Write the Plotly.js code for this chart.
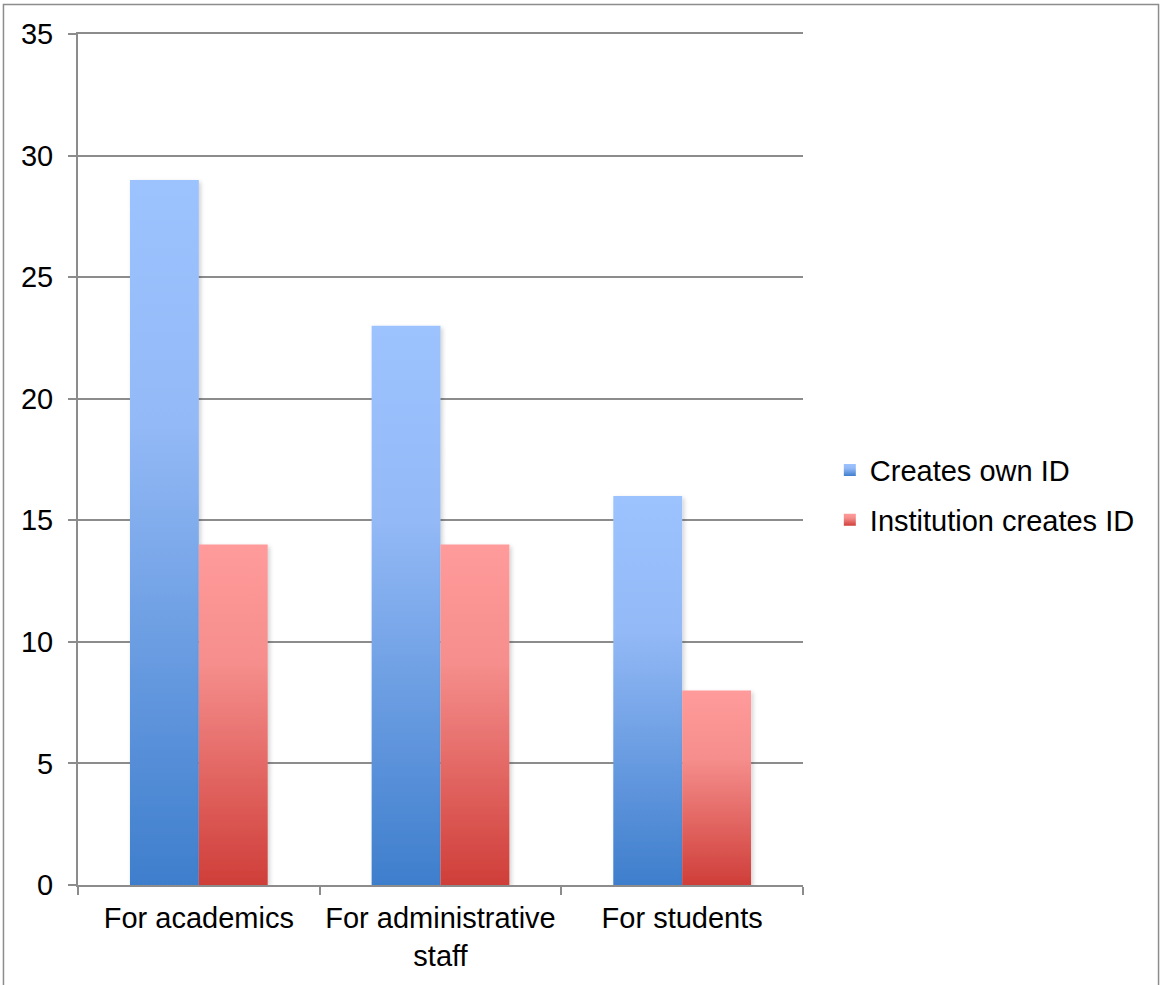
<!DOCTYPE html>
<html>
<head>
<meta charset="utf-8">
<script src="https://cdn.plot.ly/plotly-3.0.1.min.js"></script>
<style>
  html, body { margin: 0; padding: 0; background: #fff; }
  #chart { width: 1161px; height: 985px; }
</style>
</head>
<body>
<div id="chart"></div>
<script>
const categories = ["For academics", "For administrative<br>staff", "For students"];
const seriesNames = ["Creates own ID", "Institution creates ID"];
const createsOwnID = [29, 23, 16];
const institutionCreatesID = [14, 14, 8];
const yTicks = [0, 5, 10, 15, 20, 25, 30, 35];

const font = "Liberation Sans, Arial, sans-serif";
const grey = "#8c8c8c";
const fsize = 29;

const traces = [
  { type: "bar", name: seriesNames[0], x: categories, y: createsOwnID,
    marker: { color: "#6f9ce6", line: { width: 0 } }, legendgroup: "a", hoverinfo: "none" },
  { type: "bar", name: seriesNames[1], x: categories, y: institutionCreatesID,
    marker: { color: "#ea6e6b", line: { width: 0 } }, legendgroup: "b", hoverinfo: "none" }
];

const layout = {
  width: 1161, height: 985,
  margin: { l: 78, r: 358, t: 34, b: 100, pad: 0 },
  paper_bgcolor: "#fff", plot_bgcolor: "#fff",
  barmode: "group", bargap: 0.43, bargroupgap: 0,
  font: { family: font, size: fsize, color: "#000" },
  showlegend: true,
  legend: { x: 1.037, xanchor: "left", y: 0.458, yanchor: "middle",
    font: { family: font, size: fsize, color: "#000" },
    traceorder: "grouped", tracegroupgap: 9, itemwidth: 30,
    bgcolor: "rgba(0,0,0,0)" },
  xaxis: { type: "category", showgrid: false, showline: true, linecolor: grey, linewidth: 2,
    mirror: true,
    ticks: "outside", tickson: "boundaries", ticklen: 8, tickcolor: grey, tickwidth: 2,
    ticklabelstandoff: 6, tickfont: { family: font, size: fsize, color: "#000" }, zeroline: false },
  yaxis: { range: [0, 35], tickvals: yTicks, ticktext: yTicks.map(String),
    showgrid: true, gridcolor: grey, gridwidth: 2,
    showline: true, linecolor: grey, linewidth: 2, zeroline: false,
    ticks: "outside", ticklen: 8, tickcolor: grey, tickwidth: 2,
    ticklabelstandoff: 9, tickfont: { family: font, size: fsize, color: "#000" } },
  shapes: [{ type: "rect", xref: "paper", yref: "paper",
    x0: -0.1028, x1: 1.4904, y0: 1.0347, y1: -0.2,
    line: { color: grey, width: 1.5 }, fillcolor: "rgba(0,0,0,0)", layer: "below" }]
};

Plotly.newPlot("chart", traces, layout, { displayModeBar: false, staticPlot: true }).then(gd => {
  const NS = "http://www.w3.org/2000/svg";
  const svg = gd.querySelector(".main-svg");
  let defs = svg.querySelector("defs");
  if (!defs) { defs = document.createElementNS(NS, "defs"); svg.insertBefore(defs, svg.firstChild); }
  function grad(id, stops) {
    const g = document.createElementNS(NS, "linearGradient");
    g.setAttribute("id", id);
    g.setAttribute("x1", "0"); g.setAttribute("y1", "0");
    g.setAttribute("x2", "0"); g.setAttribute("y2", "1");
    stops.forEach(([o, c]) => {
      const s = document.createElementNS(NS, "stop");
      s.setAttribute("offset", o); s.setAttribute("stop-color", c);
      g.appendChild(s);
    });
    defs.appendChild(g);
  }
  grad("gBlue", [["0", "#9dc3ff"], ["0.35", "#93b9f6"], ["1", "#3e7ecc"]]);
  grad("gRed", [["0", "#ff9b9b"], ["0.35", "#f58e8c"], ["1", "#cf3e39"]]);
  const f = document.createElementNS(NS, "filter");
  f.setAttribute("id", "shadow");
  f.setAttribute("x", "-10%"); f.setAttribute("y", "-5%");
  f.setAttribute("width", "125%"); f.setAttribute("height", "110%");
  f.innerHTML = '<feDropShadow dx="2" dy="2" stdDeviation="2" flood-color="#000" flood-opacity="0.18"/>';
  defs.appendChild(f);
  const ids = ["gBlue", "gRed"];
  gd.querySelectorAll(".barlayer .trace").forEach((t, i) => {
    t.querySelectorAll("path").forEach(p => {
      p.style.fill = "url(#" + ids[i] + ")";
      p.setAttribute("filter", "url(#shadow)");
    });
  });
  gd.querySelectorAll(".legend .traces").forEach((t, i) => {
    t.querySelectorAll(".legendpoints path").forEach(p => { p.style.fill = "url(#" + ids[i] + ")"; p.style.stroke = "none"; });
  });
});
</script>
</body>
</html>
